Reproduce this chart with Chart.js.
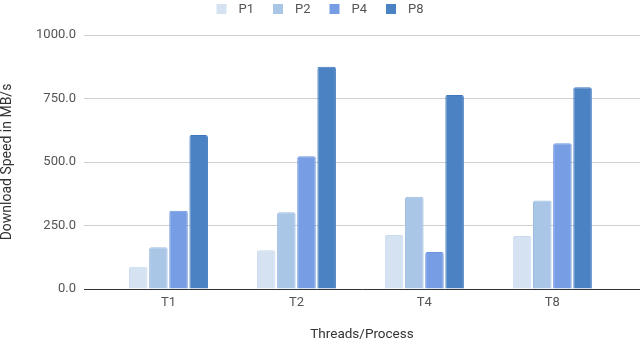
<!DOCTYPE html>
<html>
<head>
<meta charset="utf-8">
<script src="https://cdn.jsdelivr.net/npm/chart.js@4/dist/chart.umd.min.js"></script>
<style>
  html, body { margin: 0; padding: 0; background: #fff; }
  #wrap { width: 640px; height: 341px; }
</style>
</head>
<body>
<div id="wrap"><canvas id="chart"></canvas></div>
<script>
// Categories and series (MB/s)
const threads = ['T1', 'T2', 'T4', 'T8'];
const p1 = [88, 153, 213, 209];
const p2 = [164, 302, 363, 348];
const p4 = [308, 523, 146, 574];
const p8 = [606, 875, 764, 794];
const seriesNames = ['P1', 'P2', 'P4', 'P8'];
const yTicks = [0, 250, 500, 750, 1000];

const fills = ['#d4e2f2', '#a9c6e6', '#779de4', '#4a82c4'];
const edges = ['#c9daee', '#9dbde2', '#6d95de', '#3f77ba'];
const FONT = 'Roboto';

// Legend drawn on top, centred, like the original
const topLegend = {
    id: 'topLegend',
    afterDraw(chart) {
        const c = chart.ctx;
        c.save();
        c.font = '13px ' + FONT;
        c.textBaseline = 'middle';
        const items = chart.data.datasets.map(ds => ({
            text: ds.label, color: ds.backgroundColor, w: 10 + 12 + c.measureText(ds.label).width
        }));
        const gap = 19;
        const total = items.reduce((s, it) => s + it.w, 0) + gap * (items.length - 1);
        let x = chart.width / 2 - total / 2;
        const y = 9;
        items.forEach(it => {
            c.fillStyle = it.color;
            c.fillRect(x, y - 5, 10, 10);
            c.fillStyle = '#555';
            c.fillText(it.text, x + 22, y + 1);
            x += it.w + gap;
        });
        c.restore();
    }
};

const ctx = document.getElementById('chart').getContext('2d');
new Chart(ctx, {
    type: 'bar',
    data: {
        datasets: [p1, p2, p4, p8].map((vals, i) => ({
            label: seriesNames[i],
            data: vals.map((v, j) => ({ x: j + 1, y: v })),
            backgroundColor: fills[i],
            borderColor: edges[i],
            borderWidth: 1,
            borderRadius: 2,
            borderSkipped: 'bottom',
            barPercentage: 0.92,
            categoryPercentage: 0.63
        }))
    },
    options: {
        responsive: true,
        maintainAspectRatio: false,
        animation: false,
        layout: { padding: { left: 0, right: 0, top: 35, bottom: 0 } },
        plugins: {
            legend: { display: false },
            tooltip: { enabled: false }
        },
        scales: {
            x: {
                type: 'linear',
                offset: false,
                min: 0.34,
                max: 4.685,
                afterBuildTicks: axis => { axis.ticks = threads.map((t, i) => ({ value: i + 1 })); },
                afterFit: axis => { axis.height = 52; },
                grid: { display: false, drawTicks: false },
                border: { color: '#333', width: 1 },
                ticks: {
                    color: '#555',
                    font: { family: FONT, size: 13 },
                    padding: 6,
                    autoSkip: false,
                    maxRotation: 0,
                    callback: v => threads[v - 1]
                },
                title: {
                    display: true,
                    text: 'Threads/Process',
                    color: '#333',
                    font: { family: FONT, size: 13.5, lineHeight: 1 },
                    padding: { top: 0, bottom: 0 }
                }
            },
            y: {
                min: 0,
                max: 1000,
                afterBuildTicks: axis => { axis.ticks = yTicks.map(v => ({ value: v })); },
                afterFit: axis => { axis.width = 84; },
                grid: { color: '#d0d0d0', drawTicks: false },
                border: { display: false },
                ticks: {
                    color: '#555',
                    font: { family: FONT, size: 13 },
                    padding: 8,
                    callback: v => Number(v).toFixed(1)
                },
                title: {
                    display: true,
                    text: 'Download Speed in MB/s',
                    color: '#333',
                    font: { family: FONT, size: 14, lineHeight: 1 },
                    padding: { top: 0, bottom: 0 }
                }
            }
        }
    },
    plugins: [topLegend]
});
</script>
</body>
</html>
